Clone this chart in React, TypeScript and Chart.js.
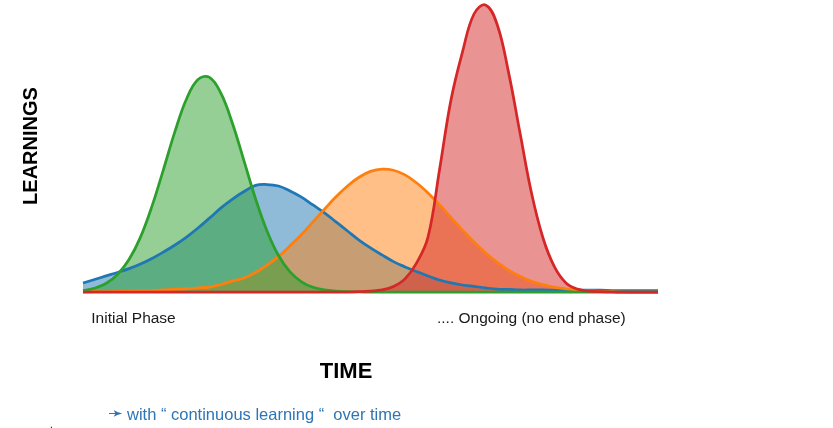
import React, { useEffect, useRef } from "react";
import { Chart, registerables } from "chart.js";

Chart.register(...registerables);

// Time axis (arbitrary units, 0 = start, 100 = right end of the baseline)
const TIME = [
  0, 2, 4, 6, 8, 10, 12, 14, 16, 18, 20, 22, 24, 26, 28, 30, 32, 34, 36, 38, 40, 42, 44, 46, 48, 50,
  52, 54, 56, 58, 60, 62, 64, 66, 68, 70, 72, 74, 76, 78, 80, 82, 84, 86, 88, 90, 92, 94, 96, 98, 100,
];

// Learnings (arbitrary units, 0..100)
const BLUE = [
  3.1, 4.3, 5.5, 6.7, 8.0, 9.6, 11.5, 13.7, 16.1, 18.8, 21.9, 25.3, 28.8, 31.8, 34.4, 36.5, 36.8,
  36.3, 34.6, 32.5, 29.8, 27.1, 24.0, 20.9, 17.8, 15.1, 12.7, 10.4, 8.6, 7.0, 5.5, 4.1, 3.1, 2.4,
  1.9, 1.4, 1.0, 0.9, 0.7, 0.7, 0.7, 0.6, 0.6, 0.6, 0.6, 0.6, 0.5, 0.5, 0.5, 0.5, 0.5,
];
const GREEN = [
  0.5, 1.3, 2.9, 6.0, 11.1, 18.8, 29.4, 42.0, 55.0, 66.1, 72.8, 73.5, 68.0, 57.7, 44.9, 32.0, 20.9,
  12.5, 6.9, 3.5, 1.6, 0.7, 0.3, 0.1, 0, 0, 0, 0, 0, 0, 0, 0, 0, 0, 0, 0, 0, 0, 0, 0, 0, 0, 0, 0, 0,
  0, 0, 0, 0, 0, 0,
];
const ORANGE = [
  0.0, 0.1, 0.1, 0.2, 0.3, 0.4, 0.5, 0.7, 0.9, 1.1, 1.4, 1.7, 2.6, 3.8, 4.8, 6.7, 9.2, 12.2, 15.8,
  19.7, 24.0, 28.4, 32.6, 36.3, 39.3, 41.3, 42.1, 41.7, 40.1, 37.4, 33.9, 29.9, 25.5, 21.2, 17.1,
  13.4, 10.2, 7.5, 5.4, 3.7, 2.5, 1.6, 1.1, 0.7, 0.4, 0.2, 0.1, 0, 0, 0, 0,
];
const RED = [
  0, 0, 0, 0, 0, 0, 0, 0, 0, 0, 0, 0, 0, 0, 0, 0, 0, 0, 0, 0, 0, 0, 0, 0, 0.1, 0.3, 0.7, 1.9, 4.5,
  9.9, 18.8, 41.8, 65.8, 82.2, 95.2, 98.3, 91.8, 75.3, 54.5, 33.9, 18.5, 8.6, 3.1, 1.0, 0.3, 0.1, 0,
  0, 0, 0, 0,
];

const PHASE_LABELS = ["Initial Phase", ".... Ongoing (no end phase)"];
const X_TITLE = "TIME";
const Y_TITLE = "LEARNINGS";
const NOTE_ARROW = "\u279B";
const NOTE = "with \u201C continuous learning \u201C  over time";

const FONT = '"Liberation Sans", Arial, "DejaVu Sans", sans-serif';

export default function App() {
  const canvasRef = useRef<HTMLCanvasElement | null>(null);

  useEffect(() => {
    if (!canvasRef.current) return;
    const series = [
      { label: "red", values: RED, line: "#d62728", fill: "rgba(214,39,40,0.5)" },
      { label: "green", values: GREEN, line: "#2ca02c", fill: "rgba(44,160,44,0.5)" },
      { label: "orange", values: ORANGE, line: "#ff7f0e", fill: "rgba(255,127,14,0.5)" },
      { label: "blue", values: BLUE, line: "#1f77b4", fill: "rgba(31,119,180,0.5)" },
    ];
    const chart = new Chart(canvasRef.current, {
      type: "line",
      data: {
        datasets: series.map((s) => ({
          label: s.label,
          data: TIME.map((t, i) => ({ x: t, y: s.values[i] })),
          borderColor: s.line,
          backgroundColor: s.fill,
          fill: "origin",
          clip: false,
          pointRadius: 0,
          borderWidth: 2.75,
          tension: 0.4,
        })),
      },
      options: {
        responsive: false,
        animation: false,
        layout: { padding: { left: 83, right: 175, top: 0, bottom: 136 } },
        scales: {
          x: { type: "linear", min: 0, max: 100, display: false },
          y: { type: "linear", min: 0, max: 100, display: false },
        },
        plugins: {
          legend: { display: false },
          tooltip: { enabled: false },
          filler: { drawTime: "beforeDatasetsDraw" },
        },
      } as any,
    });
    return () => chart.destroy();
  }, []);

  const abs = (s: React.CSSProperties): React.CSSProperties => ({
    position: "absolute",
    whiteSpace: "pre",
    fontFamily: FONT,
    margin: 0,
    ...s,
  });

  return (
    <div style={{ position: "absolute", left: 0, top: 0, width: 833, height: 428, background: "#fff", overflow: "hidden" }}>
      <canvas ref={canvasRef} width={833} height={428} style={{ display: "block", position: "absolute", left: 0, top: 0 }} />
      <div
        style={abs({
          left: -70,
          top: 134,
          width: 200,
          height: 24,
          lineHeight: "24px",
          fontSize: 20,
          fontWeight: 700,
          textAlign: "center",
          color: "#000",
          transform: "rotate(-90deg)",
          transformOrigin: "50% 50%",
        })}
      >
        {Y_TITLE}
      </div>
      <div style={abs({ left: 91.3, top: 308.9, fontSize: 15.5, lineHeight: "18px", color: "#1a1a1a" })}>
        {PHASE_LABELS[0]}
      </div>
      <div style={abs({ left: 437, top: 308.9, fontSize: 15.5, lineHeight: "18px", color: "#1a1a1a" })}>
        {PHASE_LABELS[1]}
      </div>
      <div style={abs({ left: 319.8, top: 357.7, fontSize: 22, lineHeight: "26px", fontWeight: 700, color: "#000" })}>
        {X_TITLE}
      </div>
      <div style={abs({ left: 108, top: 403, fontSize: 18, lineHeight: "20px", color: "#2e75b6" })}>{NOTE_ARROW}</div>
      <div style={abs({ left: 127, top: 404, fontSize: 16.5, lineHeight: "20px", color: "#2e75b6" })}>
        {NOTE}
      </div>
      <div style={abs({ left: 50, top: 418.5, fontSize: 10, lineHeight: "12px", color: "#000" })}>.</div>
    </div>
  );
}
